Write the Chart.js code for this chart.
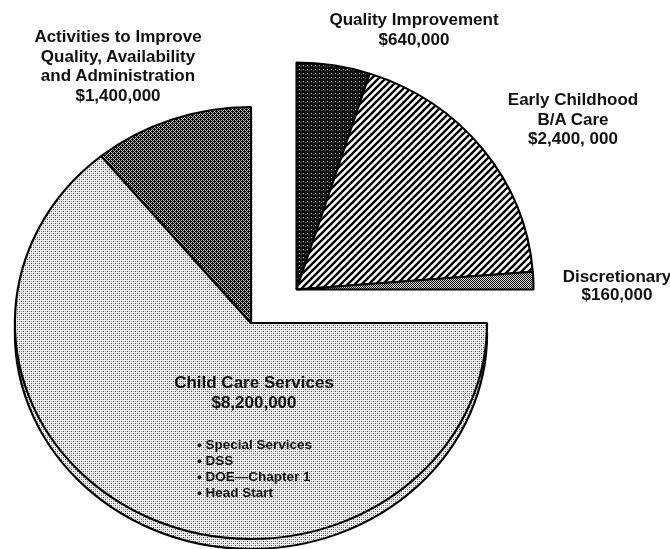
<!DOCTYPE html>
<html lang="en">
<head>
<meta charset="UTF-8">
<title>Child Care Funding</title>
<script src="https://cdn.jsdelivr.net/npm/chart.js"></script>
<style>
    body {
        margin: 0;
        width: 670px;
        height: 549px;
        overflow: hidden;
        position: relative;
        background: #fff;
        font-family: "Liberation Sans", Arial, sans-serif;
    }
    canvas { position: absolute; }
    #thick { left: -9px; top: 93px; }
    #main { left: -9px; top: 83px; }
    #pulled { left: 149.5px; top: -64.5px; }
    .lbl {
        position: absolute;
        transform: translateX(-50%);
        font-weight: bold;
        font-size: 17px;
        line-height: 19.5px;
        text-align: center;
        white-space: nowrap;
        color: #111;
    }
    .list {
        position: absolute;
        font-weight: bold;
        font-size: 13.5px;
        line-height: 16px;
        white-space: nowrap;
        color: #111;
    }
</style>
</head>
<body>

<canvas id="thick" width="520" height="480"></canvas>
<canvas id="main" width="520" height="480"></canvas>
<canvas id="pulled" width="520" height="480"></canvas>

<div class="lbl" style="left:118px; top:27px;">Activities to Improve<br>Quality, Availability<br>and Administration<br>$1,400,000</div>
<div class="lbl" style="left:414px; top:10px;">Quality Improvement<br>$640,000</div>
<div class="lbl" style="left:573px; top:90px;">Early Childhood<br>B/A Care<br>$2,400, 000</div>
<div class="lbl" style="left:617px; top:268px; line-height:17.5px;">Discretionary<br>$160,000</div>
<div class="lbl" style="left:254px; top:373px;">Child Care Services<br>$8,200,000</div>
<div class="list" id="ccList" style="left:197px; top:437px;"></div>

<script>
    // main pie (clockwise from 3 o'clock)
    const mainLabels = ['Child Care Services', 'Activities to Improve Quality, Availability and Administration'];
    const mainValues = [8200000, 1400000];

    // pulled-out quarter (clockwise from 12 o'clock)
    const pulledLabels = ['Quality Improvement', 'Early Childhood B/A Care', 'Discretionary'];
    const pulledValues = [640000, 2400000, 160000];

    const childCareItems = ['Special Services', 'DSS', 'DOE\u2014Chapter 1', 'Head Start'];

    document.getElementById('ccList').innerHTML =
        childCareItems.map(s => '\u2022 ' + s).join('<br>');

    const sum = a => a.reduce((t, v) => t + v, 0);
    const total = sum(mainValues) + sum(pulledValues);
    const pulledArc = 360 * sum(pulledValues) / total;
    const mainArc = 360 * sum(mainValues) / total;

    function makePattern(ctx, size, bg, draw) {
        const c = document.createElement('canvas');
        c.width = c.height = size;
        const g = c.getContext('2d');
        g.fillStyle = bg;
        g.fillRect(0, 0, size, size);
        draw(g);
        return ctx.createPattern(c, 'repeat');
    }

    function dots(g, list, color) {
        g.fillStyle = color;
        list.forEach(p => g.fillRect(p[0], p[1], 1, 1));
    }

    function lightDots(ctx) {
        return makePattern(ctx, 4, '#f0f0f0', g => {
            dots(g, [[0, 0], [2, 2]], '#4a4a4a');
            dots(g, [[2, 0], [0, 2]], '#a0a0a0');
        });
    }

    function darkChecker(ctx, bg, extra) {
        return makePattern(ctx, 4, bg, g => {
            const pts = [];
            for (let y = 0; y < 4; y++)
                for (let x = 0; x < 4; x++)
                    if ((x + y) % 2 === 0) pts.push([x, y]);
            dots(g, pts.concat(extra || []), '#000');
        });
    }

    function blackSpeckle(ctx) {
        return makePattern(ctx, 4, '#111', g => {
            dots(g, [[1, 1]], '#bbbbbb');
            dots(g, [[3, 2]], '#666666');
        });
    }

    function hatch(ctx) {
        return makePattern(ctx, 7, '#fff', g => {
            g.strokeStyle = '#000';
            g.lineWidth = 2.4;
            g.beginPath();
            g.moveTo(-7, 7); g.lineTo(7, -7);
            g.moveTo(0, 7); g.lineTo(7, 0);
            g.moveTo(0, 14); g.lineTo(14, 0);
            g.stroke();
        });
    }

    // the original pie is an ellipse: stretch the drawing horizontally about the
    // pie centre, and undo the stretch on the fill patterns so they stay crisp
    const stretch = {
        id: 'stretch',
        beforeDatasetsDraw(chart, args, opts) {
            const arc = chart.getDatasetMeta(0).data[0];
            const ctx = chart.ctx;
            const m = new DOMMatrix().translate(arc.x, arc.y).scale(1 / opts.sx, 1).translate(-arc.x, -arc.y);
            chart.data.datasets[0].backgroundColor.forEach(p => {
                if (p instanceof CanvasPattern) p.setTransform(m);
            });
            ctx.save();
            ctx.imageSmoothingEnabled = false;
            ctx.translate(arc.x, arc.y);
            ctx.scale(opts.sx, 1);
            ctx.translate(-arc.x, -arc.y);
        },
        afterDatasetsDraw(chart) {
            chart.ctx.restore();
        }
    };

    function pieChart(id, labels, values, fills, rotation, circumference, radius, sx) {
        const canvas = document.getElementById(id);
        const ctx = canvas.getContext('2d');
        return new Chart(ctx, {
            type: 'pie',
            data: {
                labels: labels,
                datasets: [{
                    data: values,
                    backgroundColor: fills(ctx),
                    borderColor: '#000',
                    borderWidth: 2
                }]
            },
            options: {
                responsive: false,
                animation: false,
                devicePixelRatio: 1,
                events: [],
                rotation: rotation,
                circumference: circumference,
                radius: radius,
                layout: { padding: 0 },
                plugins: {
                    legend: { display: false },
                    tooltip: { enabled: false },
                    stretch: { sx: sx }
                }
            },
            plugins: [stretch]
        });
    }

    const mainFills = ctx => [lightDots(ctx), darkChecker(ctx, '#c4c4c4', [[1, 0], [3, 2]])];

    // copy underneath, shifted down, gives the pie its edge thickness
    pieChart('thick', mainLabels, mainValues, mainFills, pulledArc, mainArc, 216, 1.093);
    pieChart('main', mainLabels, mainValues, mainFills, pulledArc, mainArc, 216, 1.093);
    pieChart('pulled', pulledLabels, pulledValues,
        ctx => [blackSpeckle(ctx), hatch(ctx), darkChecker(ctx, '#dddddd')],
        0, pulledArc, 227, 1.044);
</script>

</body>
</html>
